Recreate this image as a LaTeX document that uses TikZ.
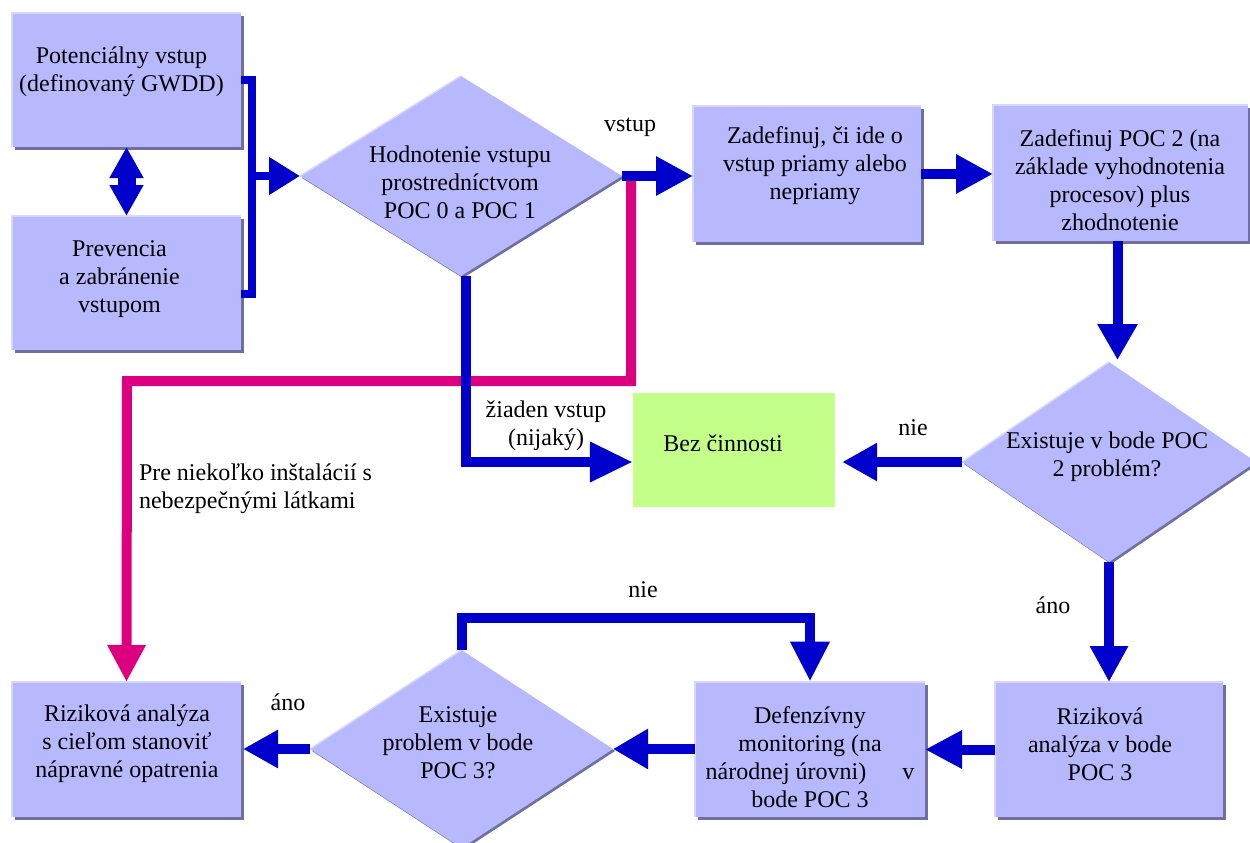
\documentclass[tikz,border=0pt]{standalone}
\usepackage{fontspec}
\setmainfont{Liberation Serif}
\usetikzlibrary{shapes.geometric,arrows.meta,calc,shadows}
\definecolor{boxfill}{RGB}{184,184,255}
\definecolor{boxshadow}{RGB}{112,112,160}
\definecolor{boxhi}{RGB}{214,214,255}
\definecolor{arrblue}{RGB}{0,0,204}
\definecolor{arrmag}{RGB}{220,0,128}
\definecolor{greenfill}{RGB}{196,255,138}
\tikzset{
  txt/.style={font=\fontsize{24}{28}\selectfont, inner sep=0pt, outer sep=0pt, align=center},
  lbl/.style={font=\fontsize{24}{28}\selectfont, inner sep=0pt, outer sep=0pt},
  box/.style={rectangle, fill=boxfill, inner sep=0pt, outer sep=0pt,
    drop shadow={shadow xshift=3pt, shadow yshift=-3pt, fill=boxshadow, opacity=1}},
  dia/.style={diamond, fill=boxfill, inner sep=0pt, outer sep=0pt, aspect=1,
    drop shadow={shadow xshift=2pt, shadow yshift=-2pt, fill=boxshadow, opacity=1}},
  hi/.style={draw=boxhi, line width=2pt},
  conn/.style={draw=arrblue, line width=10pt},
  thin/.style={draw=arrblue, line width=8pt},
  magconn/.style={draw=arrmag, line width=10pt},
  tipa/.style={-{Triangle[length=37pt,width=37pt]}},
}
\begin{document}
\begin{tikzpicture}[x=1pt,y=-1pt]
\useasboundingbox (0,0) rectangle (1250,843);
\fill[white] (0,0) rectangle (1250,843);

% boxes
\node[box, minimum width=229pt, minimum height=134pt] (A) at (126.5,80) {};
\node[box, minimum width=229pt, minimum height=134pt] (B) at (126.5,283) {};
\node[box, minimum width=228pt, minimum height=136pt] (C) at (807,174) {};
\node[box, minimum width=255pt, minimum height=136pt] (D) at (1120.5,173) {};
\node[rectangle, fill=greenfill, minimum width=202pt, minimum height=114pt] (E) at (734,450) {};
\node[box, minimum width=229pt, minimum height=135pt] (F) at (126.5,749.5) {};
\node[box, minimum width=230pt, minimum height=135pt] (G) at (810,749) {};
\node[box, minimum width=228pt, minimum height=135pt] (H) at (1109,749.5) {};

% diamonds
\node[dia, minimum width=322pt, minimum height=200pt] (d1) at (461,176) {};
\node[dia, minimum width=294pt, minimum height=200pt] (d2) at (1109,462) {};
\node[dia, minimum width=303pt, minimum height=198pt] (d3) at (461.5,749) {};

% highlights
\foreach \n in {A,B,C,D,F,G,H}
  \draw[hi] (\n.south west) -- (\n.north west) -- (\n.north east);
\foreach \n in {d1,d2,d3}
  \draw[hi, line width=1.5pt] (\n.west) -- (\n.north);

% texts
\node[txt] (At) at (121.5,72) {Potenciálny vstup\\(definovaný GWDD)};
\node[txt] (Bt) at (119.5,279) {Prevencia\\a zabránenie\\vstupom};
\node[txt] (Ct) at (815,166) {Zadefinuj, či ide o\\vstup priamy alebo\\nepriamy};
\node[txt] (Dt) at (1120,180) {Zadefinuj POC 2 (na\\základe vyhodnotenia\\procesov) plus\\zhodnotenie};
\node[txt] (Et) at (723,443) {Bez činnosti};
\node[txt] (Ft) at (127,744) {Riziková analýza\\s cieľom stanoviť\\nápravné opatrenia};
\node[txt] (Gt) at (810,757) {Defenzívny\\monitoring (na\\národnej úrovni)\hspace{36pt}v\\bode POC 3};
\node[txt] (Ht) at (1100,744) {Riziková\\analýza v bode\\POC 3};
\node[txt] (d1t) at (460,182) {Hodnotenie vstupu\\prostredníctvom\\POC 0 a POC 1};
\node[txt] (d2t) at (1107,457) {Existuje v bode POC\\2 problém?};
\node[txt] (d3t) at (458,743) {Existuje\\problem v bode\\POC 3?};

% magenta connector
\coordinate (m0) at (631,179);
\coordinate (m1) at (127,381);
\draw[magconn, -{Triangle[length=37pt,width=36pt]}] (m0) |- (m1) -- (F.north);

% left connectors
\draw[arrblue, line width=18pt, {Triangle[length=31pt,width=32pt]}-{Triangle[length=31pt,width=32pt]}] (A.south) -- (B.north);
\coordinate (j) at (252,176);
\draw[thin] (A.east) -| (j);
\draw[thin] ($(B.east)+(0,11)$) -| (j);
\draw[thin, -{Triangle[length=31pt,width=36pt]}] (j) -- (d1.west);

% main flow
\draw[conn, tipa] (d1.east) -- (d1.east -| C.west);
\draw[conn, tipa] (C.east) -- (C.east -| D.west);
\draw[conn, -{Triangle[length=36pt,width=38pt]}] ($(D.south)+(-3,0)$) -- ($(D.south |- d2.north)+(-3,-2)$);
\draw[conn, -{Triangle[length=35pt,width=36pt]}] (d2.west) -- ($(E.east)+(7,12)$);
\draw[conn, -{Triangle[length=43pt,width=38pt]}] ($(d1.south)+(5,0)$) |- ($(E.west)+(0,12)$);
\draw[conn, -{Triangle[length=36pt,width=36pt]}] (d2.south) -- (H.north);
\draw[conn, -{Triangle[length=37pt,width=36pt]}] (H.west) -- (H.west -| G.east);
\draw[conn, -{Triangle[length=35pt,width=38pt]}] (G.west) -- (G.west -| d3.east);
\draw[conn, -{Triangle[length=35pt,width=36pt]}] (d3.west) -- ($(d3.west -| F.east)+(2,0)$);
\draw[conn, -{Triangle[length=40pt,width=37pt]}] (d3.north) -- ++(0,-32) -| (G.north);

% labels
\node[lbl] (l1) at (630,127) {vstup};
\node[lbl, align=center] (l2) at (546,426) {žiaden vstup\\(nijaký)};
\node[lbl, align=left, anchor=west] (l3) at (139,489) {Pre niekoľko inštalácií s\\nebezpečnými látkami};
\node[lbl] (l4) at (913,428) {nie};
\node[lbl] (l5) at (643,590) {nie};
\node[lbl] (l6) at (288,702) {áno};
\node[lbl] (l7) at (1053,605) {áno};
\end{tikzpicture}
\end{document}
